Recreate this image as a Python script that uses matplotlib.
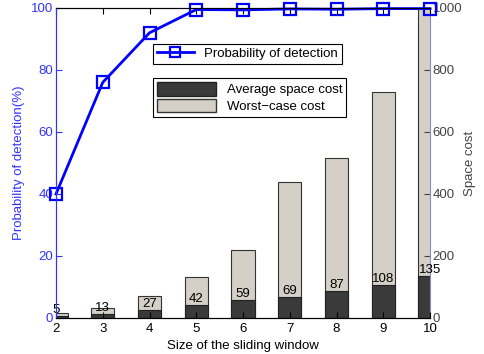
import matplotlib.pyplot as plt
from matplotlib.patches import Patch
from matplotlib.lines import Line2D

plt.rcParams['font.family'] = ['Liberation Sans', 'DejaVu Sans']

window = [2, 3, 4, 5, 6, 7, 8, 9, 10]
prob = [40, 76, 92, 99.5, 99.4, 99.7, 99.6, 99.8, 99.8]
avg_cost = [5, 13, 27, 42, 59, 69, 87, 108, 135]
worst_cost = [16, 33, 71, 132, 219, 439, 516, 729, 1000]

blue = '#0000ff'
axblue = '#3333ff'
grey = '#444444'

fig = plt.figure(figsize=(4.85, 3.54), dpi=100)
ax = fig.add_axes([56 / 485, 36 / 354, 374 / 485, 310 / 354])
ax2 = ax.twinx()

# bars on the right axis
ax2.bar(window, worst_cost, width=0.5, color='#d4d0c8', edgecolor='#333333', linewidth=0.8)
ax2.bar(window, avg_cost, width=0.5, color='#3a3a3a', edgecolor='#222222', linewidth=0.8)
for x, v in zip(window, avg_cost):
    ax2.text(x, v, str(v), ha='center', va='bottom', fontsize=9.5, color='black')
ax2.set_ylim(0, 1000)
ax2.set_yticks([0, 200, 400, 600, 800, 1000])
ax2.set_ylabel('Space cost', color=grey, fontsize=9.5, labelpad=1)
ax2.tick_params(axis='y', colors=grey, labelsize=9.5, direction='in', length=4, pad=2)

# detection line on the left axis
ax.plot(window, prob, color=blue, linewidth=2, marker='s', markersize=9,
        markerfacecolor='none', markeredgecolor=blue, markeredgewidth=1.6, clip_on=False)
ax.set_xlim(2, 10)
ax.set_ylim(0, 100)
ax.set_xticks(window)
ax.set_yticks([0, 20, 40, 60, 80, 100])
ax.set_xlabel('Size of the sliding window', fontsize=9.5, labelpad=4)
ax.set_ylabel('Probability of detection(%)', color=axblue, fontsize=9.5)
ax.tick_params(axis='y', colors=axblue, labelsize=9.5, direction='in', length=4, pad=2)
ax.tick_params(axis='x', labelsize=9.5, direction='in', length=4, top=True)
ax.set_zorder(ax2.get_zorder() + 1)
ax.patch.set_visible(False)

ax.spines['left'].set_color(axblue)
ax2.spines['left'].set_color(axblue)
ax2.spines['right'].set_color('#8888dd')
ax.spines['right'].set_visible(False)

h1 = [Line2D([], [], color=blue, linewidth=2, marker='s', markersize=7,
             markerfacecolor='none', markeredgewidth=1.6)]
leg1 = ax.legend(h1, ['Probability of detection'], loc='upper left',
                 bbox_to_anchor=(0.259, 0.885), fontsize=9.5, frameon=True,
                 fancybox=False, edgecolor='black', framealpha=1,
                 handlelength=2.8, borderpad=0.3, borderaxespad=0)
leg1.get_frame().set_linewidth(0.8)
ax.add_artist(leg1)

h2 = [Patch(facecolor='#3a3a3a', edgecolor='#222222'),
      Patch(facecolor='#d4d0c8', edgecolor='#333333')]
leg2 = ax.legend(h2, ['Average space cost', 'Worst\u2212case cost'], loc='upper left',
                 bbox_to_anchor=(0.259, 0.774), fontsize=9.5, frameon=True,
                 fancybox=False, edgecolor='black', framealpha=1,
                 handlelength=4.5, handleheight=1.2, borderpad=0.3, borderaxespad=0,
                 labelspacing=0.2)
leg2.get_frame().set_linewidth(0.8)

fig.savefig('out.png', dpi=100)
